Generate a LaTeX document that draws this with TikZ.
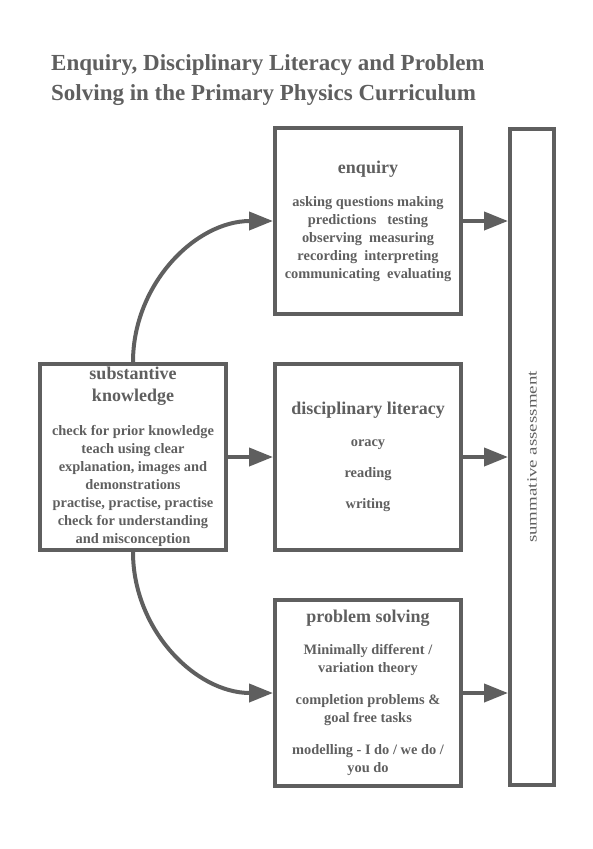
\documentclass[tikz,border=0pt]{standalone}
\usepackage{fontspec}
\setmainfont{Liberation Serif}
\newfontfamily\wideserif[FakeStretch=1.35]{Liberation Serif}
\usetikzlibrary{arrows.meta,positioning}
\definecolor{ink}{RGB}{95,95,95}
\newcommand{\hd}{\fontsize{18}{21}\selectfont}

\begin{document}
\begin{tikzpicture}[
    x=1pt, y=1pt,
    node distance=46pt and 45pt,
    box/.style={draw=ink, line width=4pt, align=center, text=ink, inner sep=0pt,
        minimum width=186pt, minimum height=186pt, font=\bfseries\fontsize{14.4}{18}\selectfont},
    link/.style={-{Triangle[length=24pt,width=18pt]}, draw=ink, line width=4pt}
]
\useasboundingbox (0,0) rectangle (592,-849);

\node[anchor=north west, align=left, text=ink, inner sep=0pt,
    font=\bfseries\fontsize{23}{30}\selectfont] (title) at (51,-54)
    {Enquiry, Disciplinary Literacy and Problem\\Solving in the Primary Physics Curriculum};

\node[box] (subst) at (133,-457) {\hd substantive\\[4pt]\hd knowledge\\[16pt]
    check for prior knowledge\\teach using clear\\explanation, images and\\demonstrations\\
    practise, practise, practise\\check for understanding\\and misconception};
\node[box, right=of subst] (disc) {\hd disciplinary literacy\\[14pt]oracy\\[13pt]reading\\[13pt]writing};
\node[box, above=of disc] (enq) {\hd enquiry\\[15pt]asking questions making\\predictions~~~testing\\
    observing~~measuring\\recording~~interpreting\\communicating~~evaluating};
\node[box, below=of disc] (prob) {\hd problem solving\\[14pt]Minimally different /\\variation theory\\[14pt]
    completion problems \&\\goal free tasks\\[14pt]modelling - I do / we do /\\you do};
\node[draw=ink, line width=4pt, minimum width=44pt, minimum height=656pt, right=of disc] (summ) {};
\node[rotate=90, text=ink, font=\wideserif\fontsize{14}{16}\selectfont] (summtext) at (summ.center) {summative assessment};

\draw[link] (subst.north) to[out=90, in=180] (enq.west);
\draw[link] (subst.east) -- (disc.west);
\draw[link] (subst.south) to[out=-90, in=180] (prob.west);
\draw[link] (enq.east) -- (enq.east -| summ.west);
\draw[link] (disc.east) -- (disc.east -| summ.west);
\draw[link] (prob.east) -- (prob.east -| summ.west);
\end{tikzpicture}
\end{document}
